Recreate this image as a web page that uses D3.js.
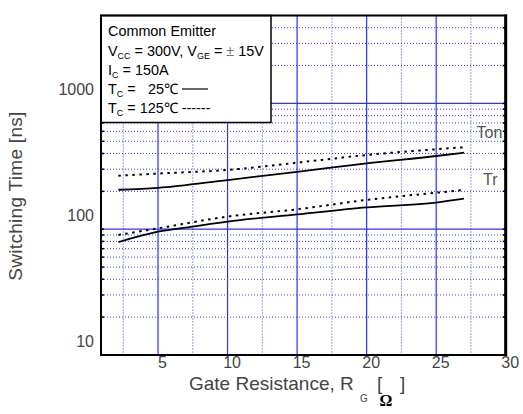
<!DOCTYPE html>
<html><head><meta charset="utf-8">
<script src="https://cdn.jsdelivr.net/npm/d3@7"></script>
<style>
html,body{margin:0;padding:0;background:#fff;}
svg{display:block;font-family:"Liberation Sans",Arial,sans-serif;}
</style></head>
<body><svg id="c" width="523" height="414"></svg>
<script>
// ---- data ----
const rgOn25 = [2.15, 5, 10, 15, 20, 25, 27];
const tonT25 = [206, 213, 246, 286, 334, 382, 406];
const rgOn125 = [2.15, 5, 10, 15, 20, 25, 27];
const tonT125 = [266, 277, 296, 338, 389, 432, 448];
const rgTr25 = [2.15, 5, 7.5, 10, 15, 20, 25, 27];
const trT25 = [79, 95.5, 105, 115, 131, 149, 163, 175];
const rgTr125 = [2.15, 5, 10, 15, 20, 25, 27];
const trT125 = [90, 101.6, 126, 144, 171, 195, 205];
const xTicks = [5, 10, 15, 20, 25, 30];
const xMinor = [2.5, 7.5, 12.5, 17.5, 22.5, 27.5];
const yTicks = [10, 100, 1000];
const yMajorGrid = [100, 1000];
const yMinorGrid = [20,30,40,50,60,70,80,90,200,300,400,500,600,700,800,900,2000,3000,4000];

const svg = d3.select("#c");
const L = 101, R = 505.7, T = 15.5, B = 355;
const x = d3.scaleLinear().domain([0.9, 30]).range([L, R]);
const y = d3.scaleLog().domain([10, 5000]).range([B, T]);
const txt = "#444";

const g = svg.append("g");
// grid
g.selectAll(".vmin").data(xMinor).join("line")
  .attr("x1", d => x(d)).attr("x2", d => x(d)).attr("y1", T).attr("y2", B)
  .attr("stroke", "#3a3aff").attr("stroke-width", 1).attr("stroke-dasharray", "1,2");
g.selectAll(".hmin").data(yMinorGrid).join("line")
  .attr("x1", L).attr("x2", R).attr("y1", d => y(d)).attr("y2", d => y(d))
  .attr("stroke", "#3a3aff").attr("stroke-width", 1).attr("stroke-dasharray", "1,2");
g.selectAll(".vmaj").data(xTicks.filter(d => d < 30)).join("line")
  .attr("x1", d => x(d)).attr("x2", d => x(d)).attr("y1", T).attr("y2", B)
  .attr("stroke", "#3030ff").attr("stroke-width", 1.2);
g.selectAll(".hmaj").data(yMajorGrid).join("line")
  .attr("x1", L).attr("x2", R).attr("y1", d => y(d)).attr("y2", d => y(d))
  .attr("stroke", "#3030ff").attr("stroke-width", 1.2);
// small ticks on left/right borders
const allY = yMinorGrid.concat(yMajorGrid);
g.selectAll(".tl").data(allY).join("line")
  .attr("x1", L).attr("x2", L + 3).attr("y1", d => y(d)).attr("y2", d => y(d))
  .attr("stroke", "#000").attr("stroke-width", 1.5);
g.selectAll(".tr").data(allY).join("line")
  .attr("x1", R - 3).attr("x2", R).attr("y1", d => y(d)).attr("y2", d => y(d))
  .attr("stroke", "#000").attr("stroke-width", 1.5);

// curves
const line = d3.line().x(d => x(d[0])).y(d => y(d[1])).curve(d3.curveMonotoneX);
const zip = (a, b) => a.map((v, i) => [v, b[i]]);
g.append("path").datum(zip(rgOn25, tonT25)).attr("d", line)
  .attr("fill", "none").attr("stroke", "#000").attr("stroke-width", 1.8);
g.append("path").datum(zip(rgOn125, tonT125)).attr("d", line)
  .attr("fill", "none").attr("stroke", "#000").attr("stroke-width", 2).attr("stroke-dasharray", "2.5,4.5");
g.append("path").datum(zip(rgTr25, trT25)).attr("d", line)
  .attr("fill", "none").attr("stroke", "#000").attr("stroke-width", 1.8);
g.append("path").datum(zip(rgTr125, trT125)).attr("d", line)
  .attr("fill", "none").attr("stroke", "#000").attr("stroke-width", 2).attr("stroke-dasharray", "2.5,4.5");

// curve labels
g.append("text").attr("x", 476.5).attr("y", 137.7).attr("font-size", 16).attr("fill", "#555").text("Ton");
g.append("text").attr("x", 483).attr("y", 185.3).attr("font-size", 16).attr("fill", "#555").text("Tr");

// legend box
g.append("rect").attr("x", L).attr("y", T).attr("width", 170).attr("height", 107)
  .attr("fill", "#fff").attr("stroke", "#000").attr("stroke-width", 1.5);
const lg = g.append("g").attr("font-size", 14.4).attr("fill", "#000");
lg.append("text").attr("x", 108).attr("y", 36).text("Common Emitter");
const l2 = lg.append("text").attr("x", 108).attr("y", 56);
l2.append("tspan").text("V");
l2.append("tspan").attr("font-size", 9).attr("dy", 3).text("CC");
l2.append("tspan").attr("dy", -3).text(" = 300V, V");
l2.append("tspan").attr("font-size", 9).attr("dy", 3).text("GE");
l2.append("tspan").attr("dy", -3).text(" = ");
l2.append("tspan").attr("fill", "#777").text("±");
l2.append("tspan").text("  15V");
const l3 = lg.append("text").attr("x", 108).attr("y", 75);
l3.append("tspan").text("I");
l3.append("tspan").attr("font-size", 9).attr("dy", 3).text("C");
l3.append("tspan").attr("dy", -3).text(" = 150A");
const l4 = lg.append("text").attr("x", 108).attr("y", 94);
l4.append("tspan").text("T");
l4.append("tspan").attr("font-size", 9).attr("dy", 3).text("C");
l4.append("tspan").attr("dy", -3).text(" =");
l4.append("tspan").attr("x", 148).text("25℃");
lg.append("line").attr("x1", 182).attr("x2", 208).attr("y1", 89).attr("y2", 89)
  .attr("stroke", "#000").attr("stroke-width", 1.2);
const l5 = lg.append("text").attr("x", 108).attr("y", 113);
l5.append("tspan").text("T");
l5.append("tspan").attr("font-size", 9).attr("dy", 3).text("C");
l5.append("tspan").attr("dy", -3).text(" = 125℃ ------");

// frame
g.append("rect").attr("x", L).attr("y", T).attr("width", R - L).attr("height", B - T)
  .attr("fill", "none").attr("stroke", "#000").attr("stroke-width", 2);
g.append("line").attr("x1", R).attr("x2", R).attr("y1", T - 1).attr("y2", B + 1)
  .attr("stroke", "#000").attr("stroke-width", 3);

// axes
const xAxis = svg.append("g").attr("transform", `translate(0,${B})`)
  .call(d3.axisBottom(x).tickValues(xTicks).tickSize(0).tickPadding(0));
xAxis.select(".domain").remove();
xAxis.selectAll("text").attr("font-size", 16).attr("fill", txt)
  .attr("font-family", '"Liberation Sans",Arial,sans-serif')
  .attr("dx", 4).attr("dy", 0).attr("y", 13.3);
const yAxis = svg.append("g").attr("transform", `translate(${L},0)`)
  .call(d3.axisLeft(y).tickValues(yTicks).tickFormat(d3.format("d")).tickSize(0).tickPadding(0));
yAxis.select(".domain").remove();
yAxis.selectAll("text").attr("font-size", 16).attr("fill", txt)
  .attr("font-family", '"Liberation Sans",Arial,sans-serif')
  .attr("x", -7).attr("dy", 0).attr("y", -8.5);

// axis titles
svg.append("text").attr("transform", "translate(22,196) rotate(-90)")
  .attr("text-anchor", "middle").attr("font-size", 19).attr("fill", txt)
  .attr("letter-spacing", 0.3)
  .text("Switching Time [ns]");
const xt = svg.append("g").attr("fill", txt);
xt.append("text").attr("x", 189).attr("y", 390).attr("font-size", 19).text("Gate Resistance,  R");
xt.append("text").attr("x", 360).attr("y", 401.5).attr("font-size", 10).text("G");
xt.append("text").attr("x", 377).attr("y", 390).attr("font-size", 19).text("[");
xt.append("text").attr("x", 400).attr("y", 390).attr("font-size", 19).text("]");
xt.append("text").attr("x", 379.5).attr("y", 406).attr("font-size", 16).attr("font-weight", "bold")
  .attr("font-family", '"Liberation Serif","DejaVu Serif",serif').attr("fill", "#000").text("Ω");
</script></body></html>
